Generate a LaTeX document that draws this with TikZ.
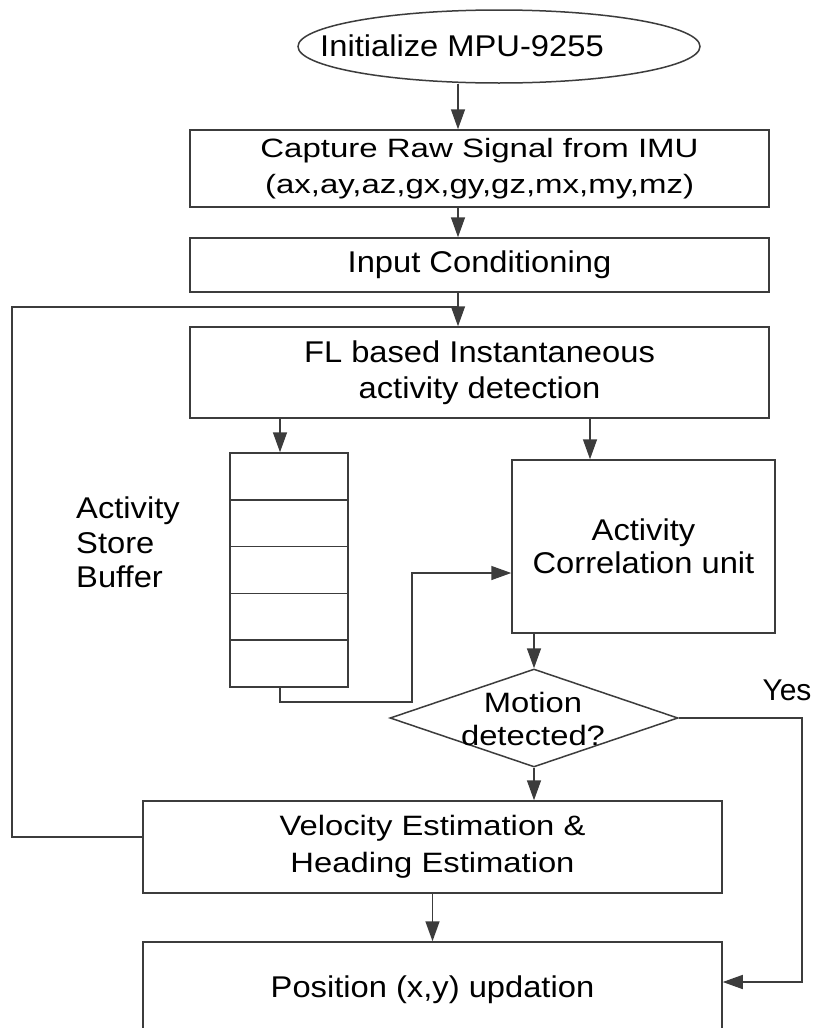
\documentclass[tikz,border=0pt]{standalone}
\usepackage{fontspec}
\setmainfont{Liberation Sans}
% slightly widened faces for the labels
\newfontfamily\fa[FakeStretch=1.09]{Liberation Sans}
\newfontfamily\fb[FakeStretch=1.245]{Liberation Sans}
\newfontfamily\fc[FakeStretch=1.17]{Liberation Sans}
\usetikzlibrary{shapes.geometric,arrows.meta}
\definecolor{linegray}{HTML}{3C3C3C}

\begin{document}
\begin{tikzpicture}[x=1pt,y=-1pt,
  line/.style={draw=linegray,line width=1.5pt},
  arr/.style={line,-{Triangle[length=20pt,width=14pt]}},
  box/.style={draw=linegray,line width=1.5pt,rectangle,inner sep=0pt,minimum width=579pt},
  cell/.style={draw=linegray,line width=1.5pt,rectangle,inner sep=0pt,minimum width=118pt,minimum height=46.8pt},
  lbl/.style={inner sep=0pt,align=center,text=black,font=\fa\fontsize{30}{36}\selectfont},
  lblwide/.style={lbl,font=\fb\fontsize{26.5}{36}\selectfont},
  lblmid/.style={lbl,font=\fc\fontsize{28}{37}\selectfont},
]
\fill[white] (0,0) rectangle (815,1028);
\useasboundingbox (0,0) rectangle (815,1028);
\clip (0,0) rectangle (815,1028);

% start terminal
\node[ellipse,draw=linegray,line width=1.5pt,inner sep=0pt,minimum width=402pt,minimum height=73pt] (init) at (499,46.5) {};
\node[lbl] (inittext) at (462,46) {Initialize MPU-9255};

% process boxes
\node[box,minimum height=77pt,lblwide] (capture) at (479.5,168.5) {Capture Raw Signal from IMU\\(ax,ay,az,gx,gy,gz,mx,my,mz)};
\node[box,minimum height=54pt,lbl] (input) at (479.5,265) {Input Conditioning};
\node[box,minimum height=91pt,lbl] (fl) at (479.5,372.5) {FL based Instantaneous\\activity detection};

% activity store buffer
\node[cell] (cell1) at (289,476.4) {};
\node[cell] (cell2) at (289,523.2) {};
\node[cell] (cell3) at (289,570) {};
\node[cell] (cell4) at (289,616.8) {};
\node[cell] (cell5) at (289,663.6) {};
\node[lbl,align=left,anchor=west,font=\fa\fontsize{30}{34.5}\selectfont] (buftext) at (76,542.5) {Activity\\Store\\Buffer};

% correlation unit
\node[box,minimum width=263pt,minimum height=173pt,lbl,font=\fa\fontsize{30}{33}\selectfont] (corr) at (643.5,546.5) {Activity\\Correlation unit};

% decision
\node[diamond,draw=linegray,line width=1.5pt,inner sep=0pt,minimum width=288pt,minimum height=98pt] (motion) at (534,718) {};
\node[lblmid,font=\fc\fontsize{28}{33}\selectfont] (motiontext) at (533,718.5) {Motion\\detected?};
\node[lbl,font=\fontsize{30}{36}\selectfont] (yes) at (787,690) {Yes};

% estimation and update
\node[box,minimum height=92pt,lblmid] (velocity) at (432.5,847) {Velocity Estimation \&\\Heading Estimation};
\node[box,minimum height=116pt] (position) at (432.5,1000) {};
\node[lbl] (postext) at (432.5,990) {Position (x,y) updation};

% helper coordinates for connector routes
\coordinate (spine) at (458,0);
\coordinate (loopx) at (12,0);
\coordinate (loopy) at (0,307);
\coordinate (backy) at (0,837);
\coordinate (bufx) at (280,0);
\coordinate (corrx) at (590,0);
\coordinate (bufouty) at (0,702);
\coordinate (bufoutx) at (412,0);
\coordinate (corriny) at (0,573);
\coordinate (yesx) at (802,0);
\coordinate (posy) at (0,982);

% main chain
\draw[arr] (init.south -| spine) -- (capture.north -| spine);
\draw[arr] (capture.south -| spine) -- (input.north -| spine);
\draw[arr] (input.south -| spine) -- (fl.north -| spine);
\draw[arr] (fl.south -| bufx) -- (cell1.north -| bufx);
\draw[arr] (fl.south -| corrx) -- (corr.north -| corrx);
\draw[arr] (cell5.south -| bufx) -- (bufx |- bufouty) -- (bufoutx |- bufouty) -- (bufoutx |- corriny) -- (corr.west |- corriny);
\draw[arr] (corr.south -| motion.north) -- (motion.north);
\draw[arr] (motion.south) -- (motion.south |- velocity.north);
\draw[arr] (motion.east) -- (yesx |- motion.east) -- (yesx |- posy) -- (position.east |- posy);
\draw[arr] (velocity.south) -- (position.north);

% feedback loop
\draw[line] (velocity.west |- backy) -- (loopx |- backy) -- (loopx |- loopy) -- (spine |- loopy);
\end{tikzpicture}
\end{document}
